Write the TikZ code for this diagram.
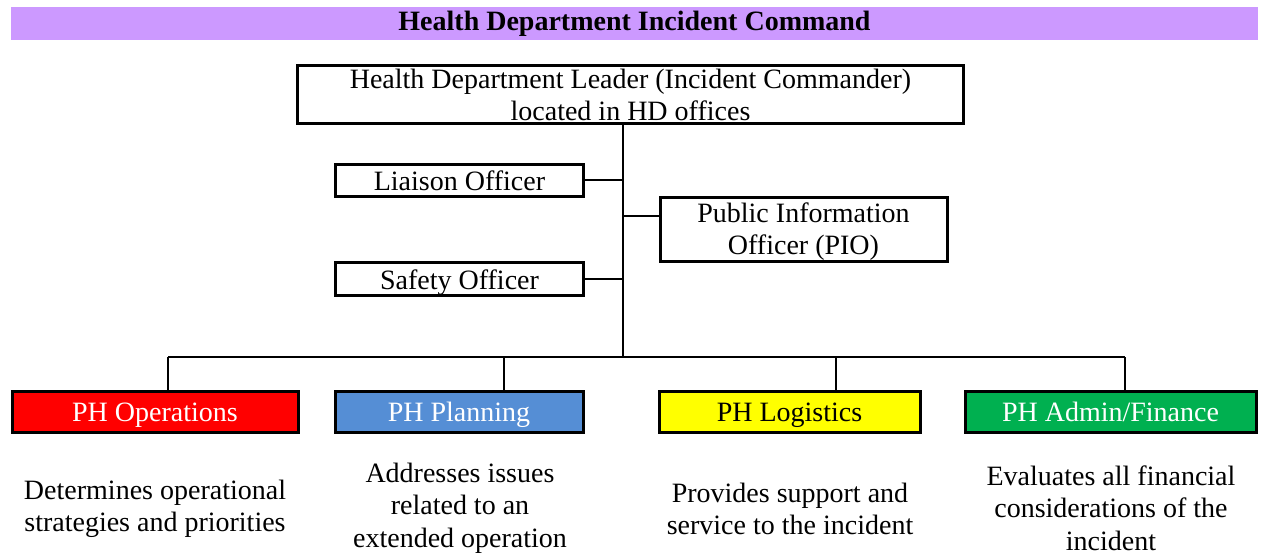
\documentclass[tikz,border=0pt]{standalone}
\usepackage{fontspec}
\setmainfont{Liberation Serif}
\definecolor{bandpurple}{HTML}{CC99FF}
\definecolor{opsred}{HTML}{FF0000}
\definecolor{planblue}{HTML}{558ED5}
\definecolor{logyellow}{HTML}{FFFF00}
\definecolor{adminGreen}{HTML}{00B050}
\begin{document}
\begin{tikzpicture}[x=1pt,y=-1pt,
  box/.style={draw=black, line width=3pt, inner sep=0pt, align=center,
    font=\fontsize{28}{32}\selectfont},
  onebox/.style={box, text height=23pt, text depth=3pt},
  conn/.style={line width=2pt},
  desc/.style={align=center, inner sep=0pt, font=\fontsize{28}{32.5}\selectfont}]
\useasboundingbox (0,0) rectangle (1264,556);
\fill[white] (0,0) rectangle (1264,556);
\node[fill=bandpurple, minimum width=1247pt, minimum height=33pt, inner sep=0pt,
  text height=19pt, text depth=5pt,
  font=\bfseries\fontsize{28}{30}\selectfont] (title) at (634.5,23.5) {Health Department Incident Command};
% top boxes
\node[box, minimum width=666pt, minimum height=58pt] (cmd) at (630.5,94.5)
  {Health Department Leader (Incident Commander)\\located in HD offices};
\node[onebox, minimum width=248pt, minimum height=32pt] (liaison) at (459.5,180.5) {Liaison Officer};
\node[box, text depth=2pt, minimum width=287pt, minimum height=64pt] (pio) at (803.5,229.5) {Public Information\\Officer (PIO)};
\node[onebox, minimum width=248pt, minimum height=33pt] (safety) at (459.5,279) {Safety Officer};
% bottom boxes
\node[onebox, fill=opsred, text=white, minimum width=286pt, minimum height=41pt] (ops) at (155,411.5) {PH Operations};
\node[onebox, fill=planblue, text=white, minimum width=248pt, minimum height=41pt] (plan) at (459,411.5) {PH Planning};
\node[onebox, fill=logyellow, minimum width=261pt, minimum height=41pt] (logi) at (789.5,411.5) {PH Logistics};
\node[onebox, fill=adminGreen, text=white, minimum width=291pt, minimum height=41pt] (admin) at (1110.5,411.5) {PH Admin/Finance};
% descriptions
\node[desc] (opsd) at (155,509) {Determines operational\\strategies and priorities};
\node[desc] (pland) at (460,508) {Addresses issues\\related to an\\extended operation};
\node[desc] (logid) at (790,509) {Provides support and\\service to the incident};
\node[desc] (admind) at (1111,508) {Evaluates all financial\\considerations of the\\incident};
% connectors
\coordinate (bus) at (623,357);
\coordinate (pioj) at (623,216.5);
\coordinate (busL) at (168,357);
\coordinate (busP) at (504,357);
\coordinate (busG) at (836,357);
\coordinate (busR) at (1125,357);
\draw[conn] (cmd.south -| bus) -- (bus);
\draw[conn] (liaison.east) -- (liaison.east -| bus);
\draw[conn] (safety.east) -- (safety.east -| bus);
\draw[conn] (pioj) -- (pioj -| pio.west);
\draw[conn] (busL) -- (busR);
\draw[conn] (busL) -- (busL |- ops.north);
\draw[conn] (busP) -- (busP |- plan.north);
\draw[conn] (busG) -- (busG |- logi.north);
\draw[conn] (busR) -- (busR |- admin.north);
\end{tikzpicture}
\end{document}
